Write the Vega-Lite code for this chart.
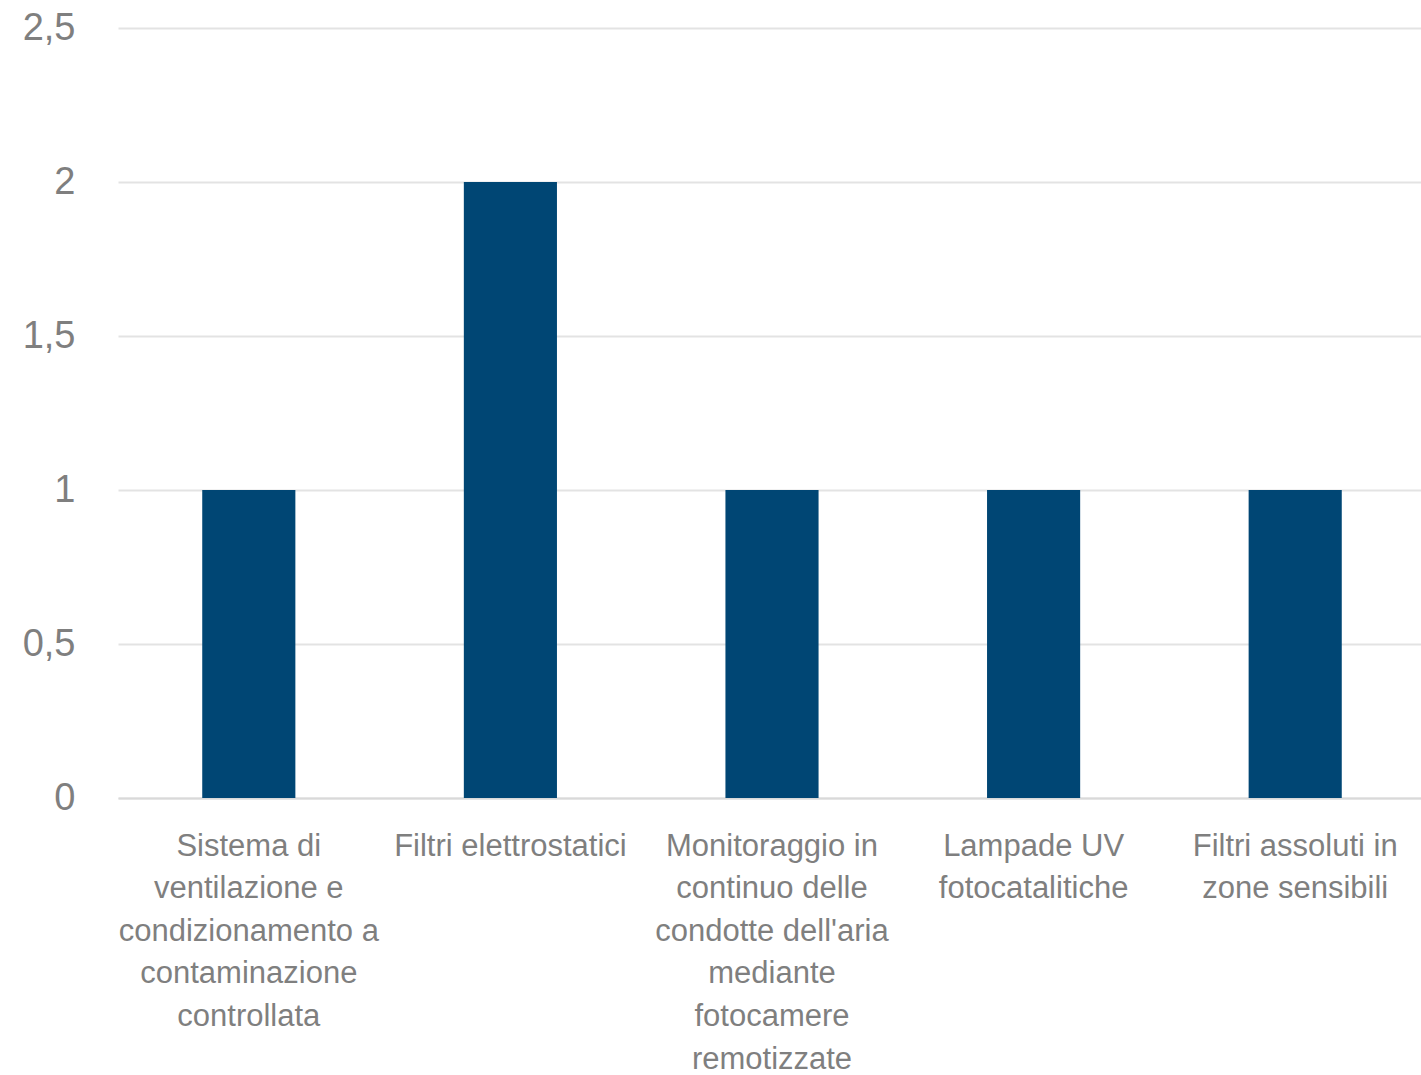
{
  "$schema": "https://vega.github.io/schema/vega-lite/v6.json",
  "autosize": "none",
  "width": 1308,
  "height": 770,
  "padding": {"left": 118, "top": 28, "right": 0, "bottom": 277},
  "background": "white",
  "data": {
    "values": [
      {"misura": "Sistema di ventilazione e condizionamento a contaminazione controllata", "valore": 1},
      {"misura": "Filtri elettrostatici", "valore": 2},
      {"misura": "Monitoraggio in continuo delle condotte dell'aria mediante fotocamere remotizzate", "valore": 1},
      {"misura": "Lampade UV fotocatalitiche", "valore": 1},
      {"misura": "Filtri assoluti in zone sensibili", "valore": 1}
    ]
  },
  "mark": {"type": "bar", "color": "#004674"},
  "encoding": {
    "x": {
      "field": "misura",
      "type": "nominal",
      "sort": null,
      "scale": {"paddingInner": 0.644, "paddingOuter": 0.322},
      "axis": {
        "title": null,
        "labelAngle": 0,
        "labelFont": "Arial Narrow, Liberation Sans Narrow, Liberation Sans, sans-serif",
        "labelFontSize": 31,
        "labelColor": "#7f7f7f",
        "labelLineHeight": 42.6,
        "labelPadding": 33,
        "labelLimit": 400,
        "ticks": false,
        "domain": true,
        "domainColor": "#d9d9d9",
        "domainWidth": 2,
        "labelExpr": "datum.value == 'Sistema di ventilazione e condizionamento a contaminazione controllata' ? ['Sistema di', 'ventilazione e', 'condizionamento a', 'contaminazione', 'controllata'] : datum.value == 'Monitoraggio in continuo delle condotte dell\\'aria mediante fotocamere remotizzate' ? ['Monitoraggio in', 'continuo delle', 'condotte dell\\'aria', 'mediante', 'fotocamere', 'remotizzate'] : datum.value == 'Lampade UV fotocatalitiche' ? ['Lampade UV', 'fotocatalitiche'] : datum.value == 'Filtri assoluti in zone sensibili' ? ['Filtri assoluti in', 'zone sensibili'] : datum.value"
      }
    },
    "y": {
      "field": "valore",
      "type": "quantitative",
      "scale": {"domain": [0, 2.5], "nice": false},
      "axis": {
        "title": null,
        "values": [0, 0.5, 1, 1.5, 2, 2.5],
        "labelExpr": "replace(format(datum.value, ''), '.', ',')",
        "labelFont": "Arial Narrow, Liberation Sans Narrow, Liberation Sans, sans-serif",
        "labelFontSize": 38,
        "labelColor": "#7f7f7f",
        "labelPadding": 43,
        "ticks": false,
        "domain": false,
        "grid": true,
        "gridColor": "#e3e3e3",
        "gridWidth": 2
      }
    }
  },
  "config": {"view": {"stroke": null}}
}
